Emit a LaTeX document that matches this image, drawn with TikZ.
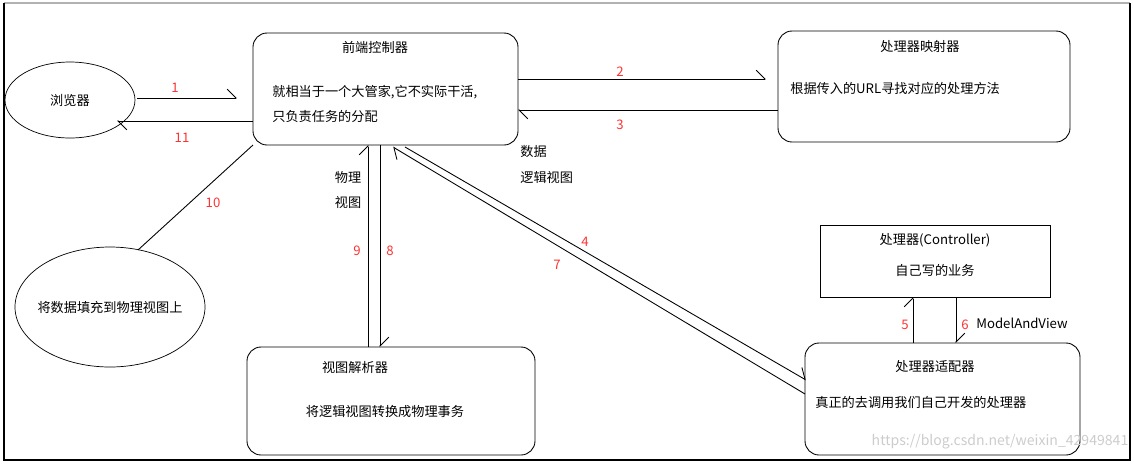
\documentclass[tikz,border=0pt]{standalone}
\usepackage{fontspec}
\setmainfont{Noto Sans CJK SC}
\usetikzlibrary{arrows.meta}
\begin{document}
\begin{tikzpicture}[x=0.02cm,y=-0.02cm,
  every node/.style={font=\fontsize{7.5}{9}\selectfont, inner sep=0},
  box/.style={draw, rounded corners=8pt, line width=0.5pt},
  ln/.style={draw, line width=0.5pt, -{Straight Barb[harpoon,length=5pt,width=10pt]}},
  plain/.style={draw, line width=0.5pt},
  num/.style={text=red!80!white}]
\useasboundingbox (0,0) rectangle (1134,464);
\draw[gray!60, line width=0.6pt] (4,3) -- (1130,3);
\draw[line width=1.2pt] (4,3) -- (4,460) -- (1130,460) -- (1130,3);
% nodes
\draw (70,100) ellipse [x radius=65, y radius=38];
\node (br) at (70,100) {浏览器};
\draw[box] (253,33) rectangle (518,145);
\node (fct) at (375,47) {前端控制器};
\node[anchor=west] (fc1) at (272,92) {就相当于一个大管家,它不实际干活,};
\node[anchor=west] (fc2) at (272,116) {只负责任务的分配};
\draw[box] (778,31) rectangle (1070,142);
\node (hm) at (920,47) {处理器映射器};
\node[anchor=west] (hmt) at (790,88) {根据传入的URL寻找对应的处理方法};
\draw (110,307) ellipse [x radius=95, y radius=60];
\node (fill) at (110,307) {将数据填充到物理视图上};
\draw[line width=0.5pt] (820,225) rectangle (1050,297);
\node (hc) at (935,240) {处理器(Controller)};
\node (hct) at (935,270) {自己写的业务};
\draw[box] (805,343) rectangle (1080,455);
\node (ha) at (935,367) {处理器适配器};
\node[anchor=west] (hat) at (815,402) {真正的去调用我们自己开发的处理器};
\draw[box] (247,347) rectangle (535,455);
\node (vr) at (355,367) {视图解析器};
\node (vrt) at (385,412) {将逻辑视图转换成物理事务};
% coordinates
\coordinate (b1s) at (137,98); \coordinate (b1e) at (237,98);
\coordinate (b11s) at (253,121); \coordinate (b11e) at (117,121);
\coordinate (a2s) at (518,79); \coordinate (a2e) at (766,79);
\coordinate (a3s) at (778,110); \coordinate (a3e) at (518,110);
\coordinate (l10a) at (138,250); \coordinate (l10b) at (253,145);
\coordinate (v9s) at (368,347); \coordinate (v9e) at (368,145);
\coordinate (v8s) at (380,145); \coordinate (v8e) at (380,347);
\coordinate (d4s) at (405,147); \coordinate (d4e) at (806,380);
\coordinate (d7s) at (805,394); \coordinate (d7e) at (393,147);
\coordinate (h5s) at (913,343); \coordinate (h5e) at (913,297);
\coordinate (h6s) at (956,297); \coordinate (h6e) at (956,343);
\draw[ln] (b1s) -- (b1e);
\draw[ln] (b11s) -- (b11e);
\draw[ln] (a2s) -- (a2e);
\draw[ln] (a3s) -- (a3e);
\draw[plain] (l10a) -- (l10b);
\draw[ln] (v9s) -- (v9e);
\draw[ln] (v8s) -- (v8e);
\draw[ln] (d4s) -- (d4e);
\draw[ln] (d7s) -- (d7e);
\draw[ln] (h5s) -- (h5e);
\draw[ln] (h6s) -- (h6e);
% labels
\node[num] at (175,88) {1};
\node[num] at (182,138) {11};
\node[num] at (620,72) {2};
\node[num] at (620,125) {3};
\node[num] at (213,203) {10};
\node[num] at (357,251) {9};
\node[num] at (390,251) {8};
\node[num] at (585,242) {4};
\node[num] at (557,265) {7};
\node[num] at (905,325) {5};
\node[num] at (965,325) {6};
\node[anchor=west] at (976,323) {ModelAndView};
\node[anchor=west] at (520,152) {数据};
\node[anchor=west] at (520,177) {逻辑视图};
\node at (348,177) {物理};
\node at (348,203) {视图};
\node[text=gray!40, font=\fontsize{8}{9}\selectfont] at (1000,442) {https://blog.csdn.net/weixin\_42949841};
\end{tikzpicture}
\end{document}
